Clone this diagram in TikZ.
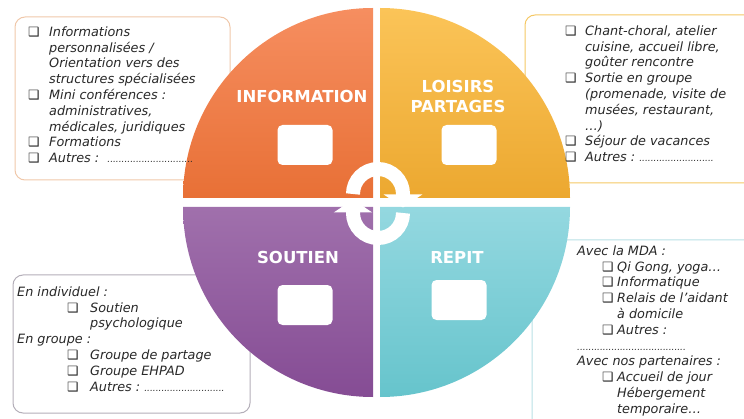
\documentclass[tikz,border=0pt]{standalone}
\usepackage{fontspec}
\setmainfont{DejaVu Sans}
\usepackage{tikz}
\usetikzlibrary{arrows.meta}
\definecolor{orangeH}{RGB}{246,142,96}
\definecolor{orangeB}{RGB}{232,112,54}
\definecolor{jauneH}{RGB}{251,196,88}
\definecolor{jauneB}{RGB}{236,168,48}
\definecolor{violetH}{RGB}{160,112,172}
\definecolor{violetB}{RGB}{133,76,148}
\definecolor{turquoiseH}{RGB}{148,216,224}
\definecolor{turquoiseB}{RGB}{102,196,204}
\definecolor{bordI}{RGB}{240,200,170}
\definecolor{bordL}{RGB}{245,200,100}
\definecolor{bordS}{RGB}{180,175,185}
\definecolor{bordR}{RGB}{185,225,230}
\definecolor{texte}{RGB}{40,40,40}
\newcommand{\puce}{❑}
\tikzset{cadre/.style={line width=1pt, rounded corners=10pt, fill=white},
         liste/.style={anchor=north west, inner sep=0pt, text=texte, font=\fontsize{12.8}{15.8}\selectfont\itshape},
         titre/.style={text=white, align=center, font=\bfseries\fontsize{16.5}{20}\selectfont},
         case/.style={fill=white, rounded corners=5pt, minimum width=55pt, minimum height=40pt},
         fleche/.style={white, line width=14pt, -{Triangle[width=38pt,length=13pt]}},}

\begin{document}
\begin{tikzpicture}[x=1pt, y=1pt]
    \useasboundingbox (0,0) rectangle (744,418);
    \clip (0,0) rectangle (744,418);

    % cadres de texte
    \draw[cadre, draw=bordI] (15,401) rectangle (230,238);
    \draw[cadre, draw=bordL] (525,403) rectangle (760,235);
    \draw[cadre, draw=bordS] (13,143) rectangle (250,5);
    \draw[cadre, draw=bordR] (532,178) rectangle (760,-10);

    % quartiers
    \shade[top color=orangeH, bottom color=orangeB] (373,220) -- (183,220) arc[start angle=180, end angle=90, radius=190] -- cycle;
    \shade[top color=jauneH, bottom color=jauneB] (380,220) -- (380,410) arc[start angle=90, end angle=0, radius=190] -- cycle;
    \shade[top color=violetH, bottom color=violetB] (373,211) -- (373,21) arc[start angle=270, end angle=180, radius=190] -- cycle;
    \shade[top color=turquoiseH, bottom color=turquoiseB] (380,211) -- (570,211) arc[start angle=0, end angle=-90, radius=190] -- cycle;

    \node[titre] (information) at (302,322) {INFORMATION};
    \node[titre] (loisirs) at (458,322) {LOISIRS\\PARTAGES};
    \node[titre] (soutien) at (298,161) {SOUTIEN};
    \node[titre] (repit) at (457,161) {REPIT};

    \node[case] (caseI) at (305,273) {};
    \node[case] (caseL) at (469,273) {};
    \node[case] (caseS) at (305,113) {};
    \node[case] (caseR) at (459,118) {};

    % fleches circulaires
    \draw[fleche] (353,224) arc[start angle=180, end angle=0, radius=25] -- ++(0,-13.5);
    \draw[fleche] (403,205) arc[start angle=0, end angle=-180, radius=25] -- ++(0,13.5);

    \node[liste] (txtI) at (28,393) {\begin{tabular}{@{}p{21pt}@{}l@{}}
        \puce & Informations\\
              & personnalisées /\\
              & Orientation vers des\\
              & structures spécialisées\\
        \puce & Mini conférences :\\
              & administratives,\\
              & médicales, juridiques\\
        \puce & Formations\\
        \puce & Autres :\ \ {\fontsize{9}{9}\selectfont ..............................}
    \end{tabular}};
    \node[liste] (txtL) at (565,394) {\begin{tabular}{@{}p{20pt}@{}l@{}}
        \puce & Chant-choral, atelier\\
              & cuisine, accueil libre,\\
              & goûter rencontre\\
        \puce & Sortie en groupe\\
              & (promenade, visite de\\
              & musées, restaurant,\\
              & …)\\
        \puce & Séjour de vacances\\
        \puce & Autres :\ {\fontsize{9}{9}\selectfont ..........................}
    \end{tabular}};
    \node[liste] (txtS) at (17,133) {\begin{tabular}{@{}p{50pt}@{}p{23pt}@{}l@{}}
        \multicolumn{3}{@{}l@{}}{En individuel :}\\
        & \puce & Soutien\\
        &       & psychologique\\
        \multicolumn{3}{@{}l@{}}{En groupe :}\\
        & \puce & Groupe de partage\\
        & \puce & Groupe EHPAD\\
        & \puce & Autres :\ {\fontsize{9}{9}\selectfont ............................}
    \end{tabular}};
    \node[liste] (txtR) at (577,174) {\begin{tabular}{@{}p{25pt}@{}p{15pt}@{}l@{}}
        \multicolumn{3}{@{}l@{}}{Avec la MDA :}\\
        & \puce & Qi Gong, yoga…\\
        & \puce & Informatique\\
        & \puce & Relais de l’aidant\\
        &       & à domicile\\
        & \puce & Autres :\\
        \multicolumn{3}{@{}l@{}}{\hspace*{0pt}{\fontsize{9}{9}\selectfont ......................................}}\\
        \multicolumn{3}{@{}l@{}}{Avec nos partenaires :}\\
        & \puce & Accueil de jour\\
        &       & Hébergement\\
        &       & temporaire…
    \end{tabular}};
\end{tikzpicture}
\end{document}
